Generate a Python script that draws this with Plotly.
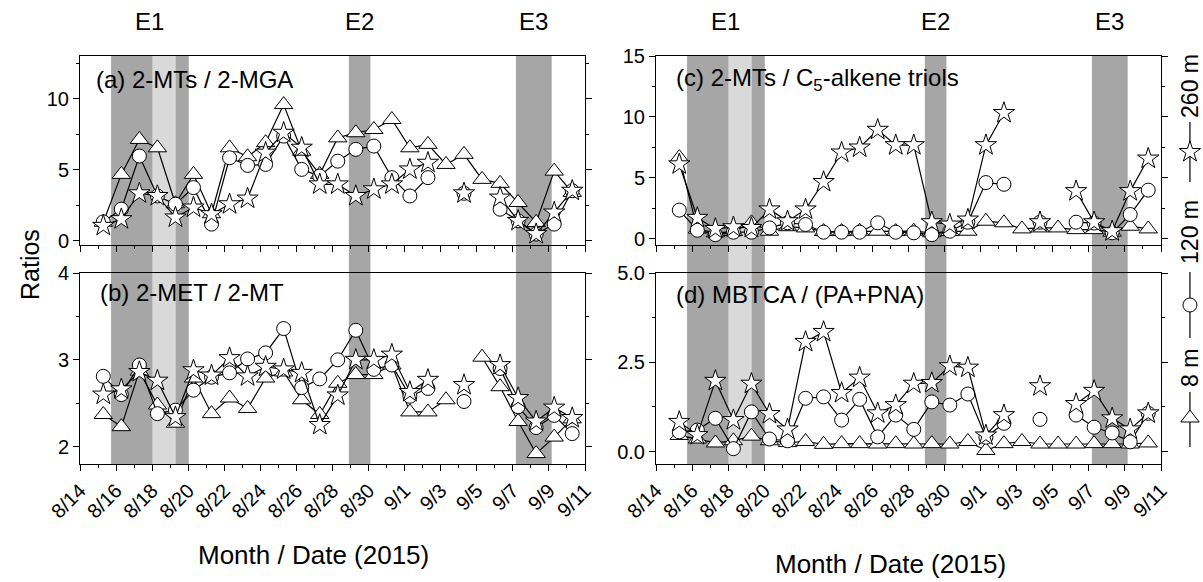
import plotly.graph_objects as go

# ---------------- data ----------------
dates = ["2015-08-15 07:00", "2015-08-16 07:00", "2015-08-17 07:00", "2015-08-18 07:00",
         "2015-08-19 07:00", "2015-08-20 07:00", "2015-08-21 07:00", "2015-08-22 07:00",
         "2015-08-23 07:00", "2015-08-24 07:00", "2015-08-25 07:00", "2015-08-26 07:00",
         "2015-08-27 07:00", "2015-08-28 07:00", "2015-08-29 07:00", "2015-08-30 07:00",
         "2015-08-31 07:00", "2015-09-01 07:00", "2015-09-02 07:00", "2015-09-03 07:00",
         "2015-09-04 07:00", "2015-09-05 07:00", "2015-09-06 07:00", "2015-09-07 07:00",
         "2015-09-08 07:00", "2015-09-09 07:00", "2015-09-10 07:00"]

# (a) 2-MTs / 2-MGA
a_8m = [1.3, 4.67, 7.13, 6.54, 2.6, 4.67, 1.9, 6.54, 5.91, 6.9, 9.58, 6.3, 4.67, 7.24,
        7.6, 7.83, 8.53, 6.54, 6.78, 5.37, 6.08, 4.32, 4.04, 2.69, 1.29, 4.9, 3.4]
a_120m = [1.33, 2.22, 5.96, 3.15, 2.57, 3.74, 1.17, 5.84, 5.3, 5.37, 7.36, 5.02, 4.55, 5.6,
          6.43, 6.66, 4.44, 3.15, 4.44, None, 3.34, None, 2.22, 1.4, 0.47, 1.17, 3.52]
a_260m = [1.05, 1.52, 3.34, 3.15, 1.64, 2.34, 1.87, 2.57, 2.97, 6.2, 7.6, 6.55, 3.97, 3.97,
          3.15, 3.62, 3.97, 5.02, 5.49, None, 3.34, None, 3.04, 1.4, 0.47, 1.99, 3.52]

# (b) 2-MET / 2-MT
b_8m = [2.37, 2.23, 2.87, 2.48, 2.27, 2.79, 2.38, 2.56, 2.44, 2.79, 2.86, 2.54, 2.37, 2.73,
        2.83, 2.83, 2.94, 2.40, 2.40, 2.54, None, 3.03, 2.69, 2.29, 1.92, 2.11, 2.32]
b_120m = [2.81, 2.60, 2.94, 2.38, 2.42, 2.65, 2.80, 2.85, 3.01, 3.08, 3.36, 2.68, 2.78, 3.0,
          3.34, 2.89, 2.94, 2.58, 2.67, None, 2.52, None, 2.90, 2.46, 2.22, 2.36, 2.15]
b_260m = [2.60, 2.66, 2.86, 2.76, 2.34, 2.88, 2.82, 3.02, 2.81, 2.92, 2.89, 2.85, 2.25, 2.59,
          3.0, 3.0, 3.06, 2.63, 2.77, None, 2.71, None, 2.94, 2.56, 2.29, 2.45, 2.33]

# (c) 2-MTs / C5-alkene triols
c_8m = [6.67, 0.8, 0.5, 0.6, 1.32, 0.63, 1.0, 0.9, 0.6, 0.6, 0.63, 0.63, 0.6, 0.63,
        0.5, 0.6, 0.63, 1.45, 1.32, 0.82, 0.9, 0.9, 0.76, 0.76, 0.55, 1.04, 0.82]
c_120m = [2.36, 0.71, 0.35, 0.55, 0.55, 0.9, 1.32, 1.18, 0.55, 0.55, 0.55, 1.32, 0.55, 0.5,
          0.35, 0.63, 1.37, 4.62, 4.48, None, 1.37, None, 1.37, 1.3, 0.5, 2.0, 4.0]
c_260m = [6.12, 1.73, 0.82, 0.96, 0.9, 2.42, 1.45, 2.42, 4.67, 7.09, 7.5, 8.95, 7.69, 7.69,
          1.37, 1.18, 1.59, 7.69, 10.33, None, 1.37, None, 3.92, 1.37, 0.63, 3.92, 6.59]

# (d) MBTCA / (PA+PNA)
d_8m = [0.45, 0.35, 0.24, 0.3, 0.43, 0.3, 0.25, 0.28, 0.2, 0.22, 0.22, 0.21, 0.22, 0.21,
        0.22, 0.21, 0.28, 0.03, 0.22, 0.28, 0.21, 0.21, 0.21, 0.22, 0.22, 0.21, 0.24]
d_120m = [0.55, 0.6, 0.93, 0.08, 1.11, 0.35, 0.3, 1.49, 1.53, 0.88, 1.46, 0.41, 1.02, 0.62,
          1.39, 1.3, 1.61, 0.4, 0.79, None, 0.9, None, 1.02, 0.68, 0.52, 0.27, 1.07]
d_260m = [0.83, 0.46, 1.98, 0.88, 1.9, 1.05, 0.62, 3.07, 3.35, 1.64, 2.07, 1.07, 1.3, 1.9,
          1.92, 2.39, 2.35, 0.45, 1.02, None, 1.83, None, 1.33, 1.7, 0.93, 0.62, 1.07]

heights = ["8 m", "120 m", "260 m"]
panel_titles = ["(a) 2-MTs / 2-MGA", "(b) 2-MET / 2-MT",
                "(c) 2-MTs / C<sub>5</sub>-alkene triols", "(d) MBTCA / (PA+PNA)"]
events = ["E1", "E2", "E3"]

# ---------------- layout helpers ----------------
W, H = 1203, 582
FONT = "Arial, 'Liberation Sans', sans-serif"


def py(p):
    return 1 - p / H


LEFT = [80 / W, 585 / W]
RIGHT = [656 / W, 1161 / W]
TOPD = [py(245), py(56)]
BOTD = [py(464), py(273)]

symbols = ["triangle-up", "circle", "star"]
sizes = [16, 14, 16]

fig = go.Figure()

panels = [
    ("x", "y", [a_8m, a_120m, a_260m]),
    ("x2", "y2", [b_8m, b_120m, b_260m]),
    ("x3", "y3", [c_8m, c_120m, c_260m]),
    ("x4", "y4", [d_8m, d_120m, d_260m]),
]
for xa, ya, series in panels:
    for k, vals in enumerate(series):
        fig.add_trace(go.Scatter(
            x=dates, y=vals, xaxis=xa, yaxis=ya, name=heights[k],
            mode="lines+markers", showlegend=False,
            line=dict(color="black", width=1.2),
            marker=dict(symbol=symbols[k], size=sizes[k], color="white",
                        line=dict(color="black", width=1)),
        ))

# ---------------- shading (events) ----------------
DARK = "#a6a6a6"
LIGHT = "#d9d9d9"
spans = [
    ("2015-08-15 17:20", "2015-08-18 00:45", DARK),
    ("2015-08-18 00:45", "2015-08-19 07:10", LIGHT),
    ("2015-08-19 07:10", "2015-08-20 00:45", DARK),
    ("2015-08-28 21:45", "2015-08-30 02:30", DARK),
    ("2015-09-07 04:05", "2015-09-09 03:40", DARK),
]
shapes = []
for xr in ["x", "x3"]:
    for x0, x1, col in spans:
        shapes.append(dict(type="rect", xref=xr, yref="paper", x0=x0, x1=x1,
                           y0=BOTD[0], y1=TOPD[1], fillcolor=col, line=dict(width=0),
                           layer="below"))

event_mid = ["2015-08-17 21:00", "2015-08-29 12:00", "2015-09-08 04:00"]

annotations = []


def txt(x, y, text, size, xref="paper", yref="paper", xanchor="center", angle=0):
    annotations.append(dict(xref=xref, yref=yref, x=x, y=y, text=text, showarrow=False,
                            xanchor=xanchor, yanchor="middle", textangle=angle,
                            font=dict(size=size, family=FONT, color="black")))


for xr in ["x", "x3"]:
    for name, xm in zip(events, event_mid):
        txt(xm, py(22), name, 24, xref=xr)

# panel labels
label_pos = [(94, 80), (98, 292), (674, 80), (674, 294)]
for t, (lx, ly) in zip(panel_titles, label_pos):
    txt(lx / W, py(ly), t, 24, xanchor="left")

txt(30 / W, py(265), "Ratios", 25, angle=-90)
txt(313 / W, py(555), "Month / Date (2015)", 26)
txt(890 / W, py(564), "Month / Date (2015)", 26)

# ---------------- legend (vertical, rotated) ----------------
LX = 0.69
leg_items = [(152, 122, 182, 2, "260 m", 86),
             (305, 272, 338, 1, "120 m", 232),
             (418, 392, 447, 0, "8 m", 368)]
for cy, y0, y1, k, label, ty in leg_items:
    fig.add_trace(go.Scatter(x=[LX, LX], y=[y0, y1], xaxis="x5", yaxis="y5", mode="lines",
                             line=dict(color="black", width=1.2), showlegend=False,
                             hoverinfo="skip"))
    fig.add_trace(go.Scatter(x=[LX], y=[cy], xaxis="x5", yaxis="y5", mode="markers",
                             marker=dict(symbol=symbols[k], size=sizes[k], color="white",
                                         line=dict(color="black", width=1)),
                             showlegend=False, hoverinfo="skip"))
    txt(LX, ty, label, 23, xref="x5", yref="y5", angle=-90)

# ---------------- axes ----------------
DAY = 86400000


def xaxis(domain, anchor, labels):
    return dict(domain=domain, anchor=anchor, type="date", automargin=False,
                range=["2015-08-14", "2015-09-11"], tick0="2015-08-14", dtick=2 * DAY,
                tickformat="%-m/%-d", tickangle=-45, ticks="outside", ticklen=6,
                tickwidth=1, tickcolor="black",
                minor=dict(dtick=DAY, ticks="outside", ticklen=3, tickcolor="black"),
                showticklabels=labels, showline=True, linecolor="black", linewidth=1,
                mirror=True, showgrid=False, zeroline=False,
                tickfont=dict(size=20, family=FONT, color="black"))


def yaxis(domain, anchor, rng, dtick, minor, fmt=None):
    d = dict(domain=domain, anchor=anchor, range=rng, dtick=dtick, tick0=0,
             automargin=False,
             ticks="outside", ticklen=6, tickwidth=1, tickcolor="black",
             minor=dict(dtick=minor, tick0=0, ticks="outside", ticklen=3, tickcolor="black"),
             showline=True, linecolor="black", linewidth=1, mirror="ticks",
             showgrid=False, zeroline=False,
             tickfont=dict(size=20, family=FONT, color="black"))
    if fmt:
        d["tickformat"] = fmt
    return d


fig.update_layout(
    template="none",
    width=W, height=H, autosize=False,
    margin=dict(l=0, r=0, t=0, b=0, pad=0),
    paper_bgcolor="white", plot_bgcolor="rgba(0,0,0,0)",
    showlegend=False,
    font=dict(family=FONT, color="black"),
    xaxis=xaxis(LEFT, "y", False),
    yaxis=yaxis(TOPD, "x", [-0.3, 13], 5, 2.5),
    xaxis2=xaxis(LEFT, "y2", True),
    yaxis2=yaxis(BOTD, "x2", [1.8, 4.0], 1, 0.5),
    xaxis3=xaxis(RIGHT, "y3", False),
    yaxis3=yaxis(TOPD, "x3", [-0.5, 15], 5, 2.5),
    xaxis4=xaxis(RIGHT, "y4", True),
    yaxis4=yaxis(BOTD, "x4", [-0.35, 5.0], 2.5, 1.25, ".1f"),
    xaxis5=dict(domain=[0.965, 1.0], anchor="y5", range=[0, 1], visible=False,
                automargin=False),
    yaxis5=dict(domain=[0, 1], anchor="x5", range=[H, 0], visible=False,
                automargin=False),
    shapes=shapes,
    annotations=annotations,
)

fig.write_html("out.html")
